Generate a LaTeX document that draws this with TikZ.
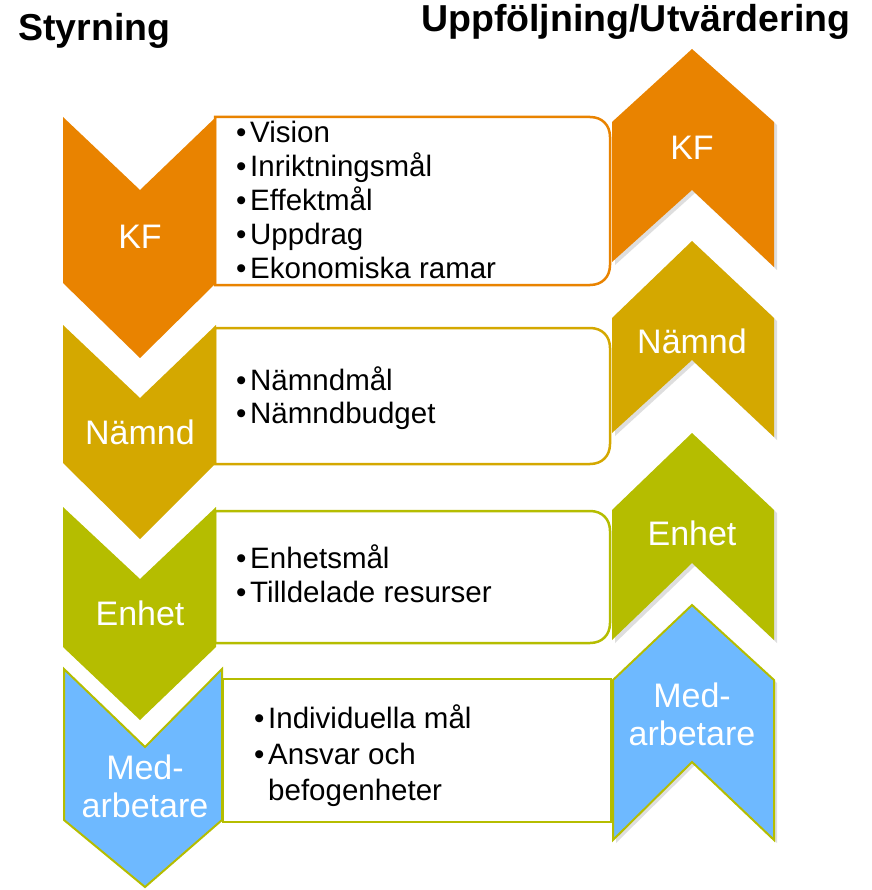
\documentclass[tikz,border=0pt]{standalone}
\usepackage{fontspec}
\setmainfont{Liberation Sans}
\definecolor{kfc}{RGB}{233,131,0}
\definecolor{nac}{RGB}{212,168,0}
\definecolor{enc}{RGB}{181,189,0}
\definecolor{mec}{RGB}{110,185,255}
\newcommand\bul[1]{\makebox[14pt][l]{\textbullet}#1}
\begin{document}
\begin{tikzpicture}[x=1pt,y=-1pt,
  lab/.style={text=white, font=\fontsize{34}{38}\selectfont, align=center, inner sep=0pt},
  item/.style={anchor=base west, inner sep=0pt, font=\fontsize{29.5}{34}\selectfont},
  head/.style={anchor=base west, inner sep=0pt, font=\fontsize{37.5}{40}\selectfont\bfseries},
  boxline/.style={line width=2.5pt, fill=white},
  shad/.style={fill=black, opacity=0.13}]
\useasboundingbox (0,0) rectangle (871,890);

% headers
\node[head] (hs) at (18,41) {Styrning};
\node[head] (hu) at (421,32) {Uppföljning/Utvärdering};

% boxes
\draw[boxline, draw=kfc] (215,117) -- (590,117) .. controls (602,117) and (610,125) .. (610,137) -- (610,265) .. controls (610,277) and (602,285) .. (590,285) -- (215,285) -- cycle;
\draw[boxline, draw=nac] (215,328) -- (590,328) .. controls (602,328) and (610,336) .. (610,348) -- (610,444) .. controls (610,456) and (602,464) .. (590,464) -- (215,464) -- cycle;
\draw[boxline, draw=enc] (215,511) -- (590,511) .. controls (602,511) and (610,519) .. (610,531) -- (610,623) .. controls (610,635) and (602,643) .. (590,643) -- (215,643) -- cycle;
\draw[boxline, draw=enc] (223,679) rectangle (611,822);

% left chevrons (down)
\fill[kfc] (63,117) -- (140,190) -- (216,117) -- (216,283) -- (140,358) -- (63,283) -- cycle;
\fill[nac] (63,325) -- (140,398) -- (216,325) -- (216,463) -- (140,539) -- (63,463) -- cycle;
\fill[enc] (63,507) -- (140,579) -- (216,507) -- (216,647) -- (140,720) -- (63,647) -- cycle;
\filldraw[fill=mec, draw=enc, line width=2pt] (64,669) -- (145,747) -- (222,669) -- (222,820) -- (145,887) -- (64,820) -- cycle;

% right chevrons (up) with soft shadows
\fill[shad] (615,125) -- (695,52) -- (777,125) -- (777,270) -- (695,193) -- (615,265) -- cycle;
\fill[kfc] (612,122) -- (692,49) -- (774,122) -- (774,267) -- (692,190) -- (612,262) -- cycle;
\fill[shad] (615,321) -- (695,244) -- (777,321) -- (777,440) -- (695,363) -- (615,436) -- cycle;
\fill[nac] (612,318) -- (692,241) -- (774,318) -- (774,437) -- (692,360) -- (612,433) -- cycle;
\fill[shad] (615,513) -- (695,436) -- (777,513) -- (777,643) -- (695,566) -- (615,643) -- cycle;
\fill[enc] (612,510) -- (692,433) -- (774,510) -- (774,640) -- (692,563) -- (612,640) -- cycle;
\fill[shad] (616,683) -- (695,608) -- (777,683) -- (777,843) -- (695,765) -- (616,843) -- cycle;
\filldraw[fill=mec, draw=enc, line width=2pt] (613,680) -- (692,605) -- (774,680) -- (774,840) -- (692,762) -- (613,840) -- cycle;

% chevron labels
\node[lab] (lkf) at (140,237) {KF};
\node[lab] (lna) at (140,432) {Nämnd};
\node[lab] (len) at (140,613) {Enhet};
\node[lab] (lme) at (145,786) {Med-\\arbetare};
\node[lab] (rkf) at (692,148) {KF};
\node[lab] (rna) at (692,341) {Nämnd};
\node[lab] (ren) at (692,533) {Enhet};
\node[lab] (rme) at (692,714) {Med-\\arbetare};

% box items
\node[item] (k1) at (236,143) {\bul{Vision}};
\node[item] (k2) at (236,177) {\bul{Inriktningsmål}};
\node[item] (k3) at (236,211) {\bul{Effektmål}};
\node[item] (k4) at (236,245) {\bul{Uppdrag}};
\node[item] (k5) at (236,279) {\bul{Ekonomiska ramar}};
\node[item] (n1) at (236,390) {\bul{Nämndmål}};
\node[item] (n2) at (236,423) {\bul{Nämndbudget}};
\node[item] (e1) at (236,568) {\bul{Enhetsmål}};
\node[item] (e2) at (236,602) {\bul{Tilldelade resurser}};
\node[item] (m1) at (254,728) {\bul{Individuella mål}};
\node[item] (m2) at (254,764) {\bul{Ansvar och}};
\node[item] (m3) at (268,800) {befogenheter};
\end{tikzpicture}
\end{document}
